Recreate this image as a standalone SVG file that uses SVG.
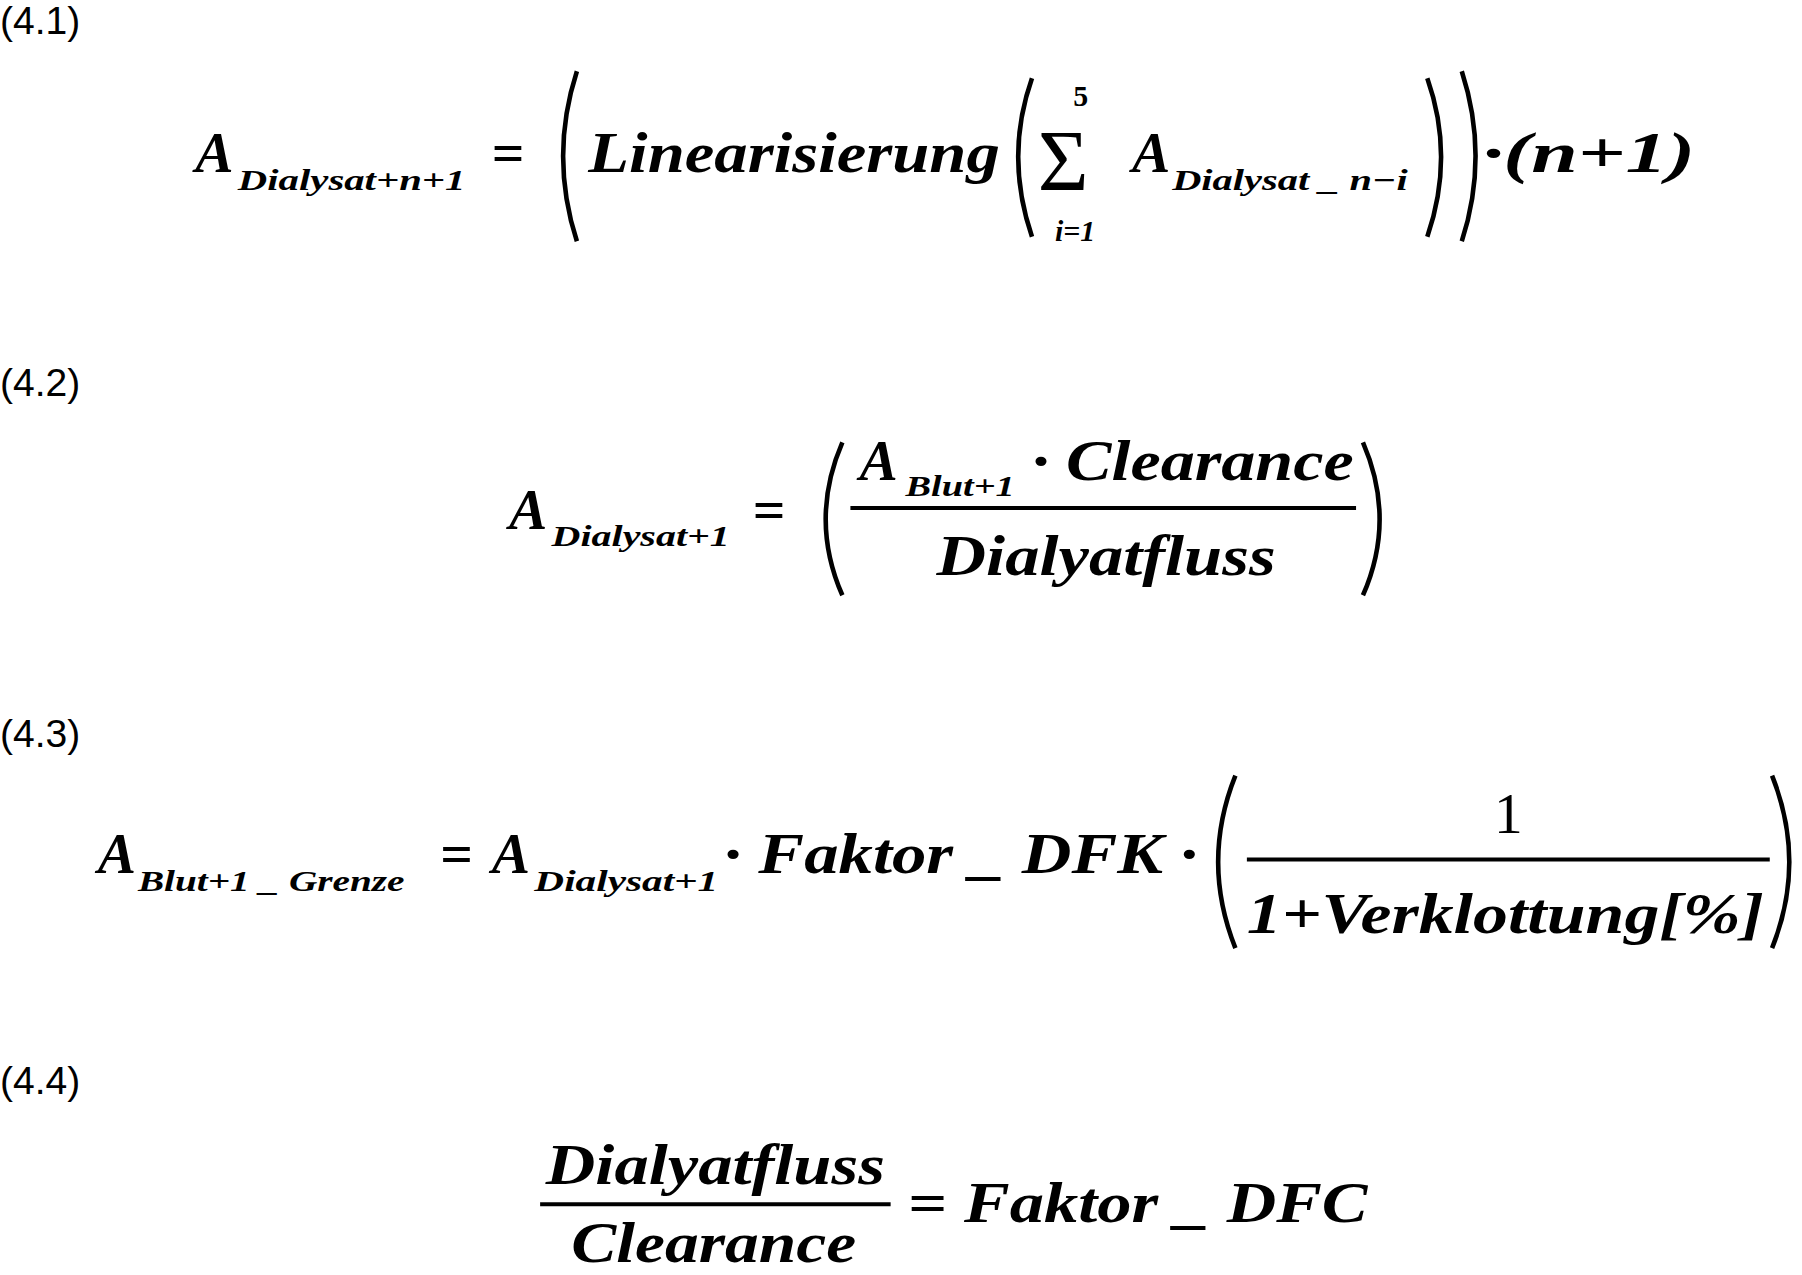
<svg xmlns="http://www.w3.org/2000/svg" width="1802" height="1275" viewBox="0 0 1802 1275">
<style>
.lbl{font-family:"Liberation Sans",Arial,sans-serif;font-size:34px;fill:#000}
.m{font-family:"Liberation Serif","Times New Roman",serif;font-weight:bold;font-style:italic;font-size:50px;fill:#000}
.s{font-family:"Liberation Serif","Times New Roman",serif;font-weight:bold;font-style:italic;font-size:26px;fill:#000}
.r{font-family:"Liberation Serif","Times New Roman",serif;font-weight:bold;font-size:50px;fill:#000}
.p{fill:none;stroke:#000;stroke-width:4}
.fl{stroke:#000;stroke-width:3.5}
</style>
<rect width="1802" height="1275" fill="#fff"/>
<g transform="scale(1.1492)">
<g id="eq1">
<text class="lbl" x="0" y="30">(4.1)</text>
<text class="m" x="170" y="150">A</text>
<text class="s" x="207" y="165" textLength="198" lengthAdjust="spacingAndGlyphs">Dialysat+n+1</text>
<text class="r" x="428" y="150">=</text>
<path class="p" d="M502,62 Q478,136 502,210"/>
<text class="m" x="512" y="150" textLength="358" lengthAdjust="spacingAndGlyphs">Linearisierung</text>
<path class="p" d="M898,68 Q874,136 898,206"/>
<text class="r" x="903" y="165" style="font-size:76px;font-style:normal;font-weight:normal">Σ</text>
<text class="s" x="934" y="92" style="font-style:normal">5</text>
<text class="s" x="918" y="210">i=1</text>
<text class="m" x="985" y="150">A</text>
<text class="s" x="1020" y="165" textLength="205" lengthAdjust="spacingAndGlyphs">Dialysat _ n−i</text>
<path class="p" d="M1242,68 Q1266,136 1242,206"/>
<path class="p" d="M1272,62 Q1296,136 1272,210"/>
<text class="m" x="1290" y="150" textLength="185" lengthAdjust="spacingAndGlyphs">·(n+1)</text>
</g>
<g id="eq2">
<text class="lbl" x="0" y="345">(4.2)</text>
<text class="m" x="443" y="460">A</text>
<text class="s" x="480" y="475" textLength="155" lengthAdjust="spacingAndGlyphs">Dialysat+1</text>
<text class="r" x="655" y="460">=</text>
<path class="p" d="M733,385 Q704,452 733,518"/>
<text class="m" x="748" y="418">A</text>
<text class="s" x="788" y="432" textLength="95" lengthAdjust="spacingAndGlyphs">Blut+1</text>
<text class="m" x="898" y="418" textLength="280" lengthAdjust="spacingAndGlyphs">· Clearance</text>
<line class="fl" x1="740" y1="442" x2="1180" y2="442"/>
<text class="m" x="815" y="500" textLength="295" lengthAdjust="spacingAndGlyphs">Dialyatfluss</text>
<path class="p" d="M1186,385 Q1215,452 1186,518"/>
</g>
<g id="eq3">
<text class="lbl" x="0" y="650">(4.3)</text>
<text class="m" x="85" y="760">A</text>
<text class="s" x="120" y="775" textLength="232" lengthAdjust="spacingAndGlyphs">Blut+1 _ Grenze</text>
<text class="r" x="383" y="760">=</text>
<text class="m" x="428" y="760">A</text>
<text class="s" x="465" y="775" textLength="160" lengthAdjust="spacingAndGlyphs">Dialysat+1</text>
<text class="m" x="630" y="760" textLength="412" lengthAdjust="spacingAndGlyphs">· Faktor _ DFK ·</text>
<path class="p" d="M1075,675 Q1045,750 1075,825"/>
<text class="r" x="1300" y="725" style="font-weight:normal">1</text>
<line class="fl" x1="1085" y1="748" x2="1540" y2="748"/>
<text class="m" x="1085" y="812" textLength="450" lengthAdjust="spacingAndGlyphs">1+Verklottung[%]</text>
<path class="p" d="M1542,675 Q1572,750 1542,825"/>
</g>
<g id="eq4">
<text class="lbl" x="0" y="952">(4.4)</text>
<text class="m" x="475" y="1030" textLength="295" lengthAdjust="spacingAndGlyphs">Dialyatfluss</text>
<line class="fl" x1="470" y1="1048" x2="775" y2="1048"/>
<text class="m" x="497" y="1098" textLength="248" lengthAdjust="spacingAndGlyphs">Clearance</text>
<text class="m" x="790" y="1063" textLength="400" lengthAdjust="spacingAndGlyphs">= Faktor _ DFC</text>
</g>
</g>
</svg>
